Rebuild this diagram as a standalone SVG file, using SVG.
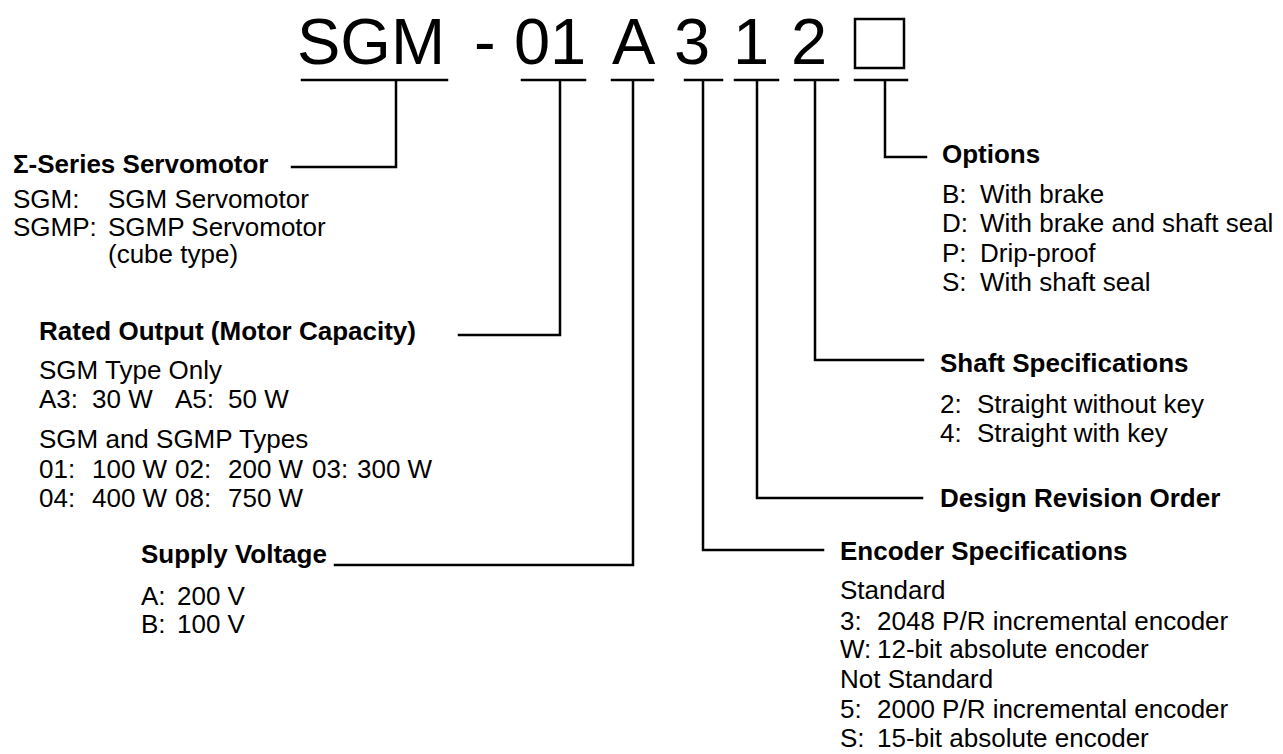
<svg xmlns="http://www.w3.org/2000/svg" width="1283" height="754" viewBox="0 0 1283 754">
<style>
text{font-family:"Liberation Sans",Arial,sans-serif;fill:#000}
.t{font-size:65px}
.h{font-size:26px;font-weight:bold}
.b{font-size:26px}
.ln{stroke:#000;stroke-width:2.5;fill:none;stroke-linecap:square}
</style>
<rect width="1283" height="754" fill="#fff"/>
<g id="title">
<text class="t" x="297" y="64">SGM</text>
<text class="t" x="474" y="64">-</text>
<text class="t" x="514" y="64">0</text>
<text class="t" x="550" y="64">1</text>
<text class="t" x="612" y="64">A</text>
<text class="t" x="674" y="64">3</text>
<text class="t" x="733" y="64">1</text>
<text class="t" x="791" y="64">2</text>
<rect x="855" y="19" width="49" height="49" fill="none" stroke="#000" stroke-width="2.5"/>
</g>
<g id="connectors">
<path class="ln" d="M302 80H447M396 80V167H292"/>
<path class="ln" d="M522 80H585M560 80V335H459"/>
<path class="ln" d="M612 80H653M633 80V565H335"/>
<path class="ln" d="M685 80H722M703 80V550H823"/>
<path class="ln" d="M735 80H778M757 80V498H922"/>
<path class="ln" d="M795 80H838M815 80V360H923"/>
<path class="ln" d="M855 80H907M885 80V157H926"/>
</g>
<g id="series">
<text class="h" x="13" y="173">Σ-Series Servomotor</text>
<text class="b" x="13" y="208">SGM:</text><text class="b" x="108" y="208">SGM Servomotor</text>
<text class="b" x="13" y="236">SGMP:</text><text class="b" x="108" y="236">SGMP Servomotor</text>
<text class="b" x="108" y="263">(cube type)</text>
</g>
<g id="rated">
<text class="h" x="39" y="340">Rated Output (Motor Capacity)</text>
<text class="b" x="39" y="379">SGM Type Only</text>
<text class="b" y="408"><tspan x="39">A3:</tspan><tspan x="92">30 W</tspan><tspan x="175">A5:</tspan><tspan x="228">50 W</tspan></text>
<text class="b" x="39" y="448">SGM and SGMP Types</text>
<text class="b" y="478"><tspan x="39">01:</tspan><tspan x="92">100 W</tspan><tspan x="175">02:</tspan><tspan x="228">200 W</tspan><tspan x="312">03:</tspan><tspan x="357">300 W</tspan></text>
<text class="b" y="507"><tspan x="39">04:</tspan><tspan x="92">400 W</tspan><tspan x="175">08:</tspan><tspan x="228">750 W</tspan></text>
</g>
<g id="supply">
<text class="h" x="141" y="563">Supply Voltage</text>
<text class="b" y="605"><tspan x="141">A:</tspan><tspan x="177">200 V</tspan></text>
<text class="b" y="633"><tspan x="141">B:</tspan><tspan x="177">100 V</tspan></text>
</g>
<g id="encoder">
<text class="h" x="840" y="560">Encoder Specifications</text>
<text class="b" x="840" y="599">Standard</text>
<text class="b" y="630"><tspan x="840">3:</tspan><tspan x="877">2048 P/R incremental encoder</tspan></text>
<text class="b" y="658"><tspan x="840">W:</tspan><tspan x="877">12-bit absolute encoder</tspan></text>
<text class="b" x="840" y="688">Not Standard</text>
<text class="b" y="718"><tspan x="840">5:</tspan><tspan x="877">2000 P/R incremental encoder</tspan></text>
<text class="b" y="747"><tspan x="840">S:</tspan><tspan x="877">15-bit absolute encoder</tspan></text>
</g>
<g id="design">
<text class="h" x="940" y="507">Design Revision Order</text>
</g>
<g id="shaft">
<text class="h" x="940" y="372">Shaft Specifications</text>
<text class="b" y="413"><tspan x="940">2:</tspan><tspan x="977">Straight without key</tspan></text>
<text class="b" y="442"><tspan x="940">4:</tspan><tspan x="977">Straight with key</tspan></text>
</g>
<g id="options">
<text class="h" x="942" y="163">Options</text>
<text class="b" y="203"><tspan x="942">B:</tspan><tspan x="980">With brake</tspan></text>
<text class="b" y="232"><tspan x="942">D:</tspan><tspan x="980">With brake and shaft seal</tspan></text>
<text class="b" y="262"><tspan x="942">P:</tspan><tspan x="980">Drip-proof</tspan></text>
<text class="b" y="291"><tspan x="942">S:</tspan><tspan x="980">With shaft seal</tspan></text>
</g>
</svg>
